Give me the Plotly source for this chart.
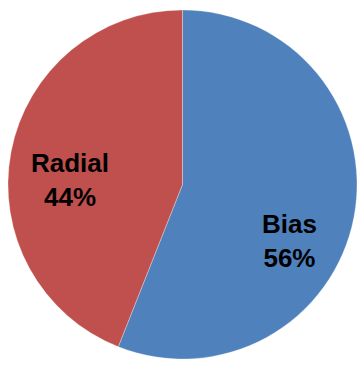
import plotly.graph_objects as go

labels = ["Bias", "Radial"]
values = [56, 44]
colors = ["#4F81BD", "#C0504D"]
# label anchor positions (paper fractions) for each slice's text
label_x = [0.808, 0.178]
label_y = [0.338, 0.513]

total = sum(values)

fig = go.Figure(go.Pie(
    labels=labels,
    values=values,
    sort=False,
    direction="clockwise",
    rotation=0,
    marker=dict(colors=colors, line=dict(color="rgba(255,255,255,0.6)", width=0.5)),
    textinfo="none",
    hoverinfo="skip",
    showlegend=False,
))
for lab, val, lx, ly in zip(labels, values, label_x, label_y):
    fig.add_annotation(
        x=lx, y=ly, xref="paper", yref="paper",
        xanchor="center", yanchor="middle",
        text=f"<b>{lab}<br>{round(100 * val / total)}%</b>",
        showarrow=False,
        font=dict(family="Liberation Sans, Arial", size=26, color="black"),
    )
fig.update_layout(
    width=357, height=370,
    margin=dict(l=8, r=0, t=9, b=10),
    paper_bgcolor="white",
    plot_bgcolor="white",
)
fig.write_html("out.html")
